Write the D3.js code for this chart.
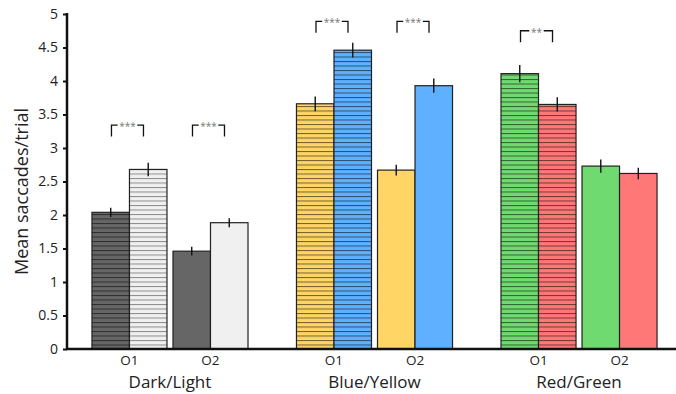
<!DOCTYPE html>
<html>
<head>
<meta charset="utf-8">
<script src="https://cdn.jsdelivr.net/npm/d3@7"></script>
<style>
  body { margin: 0; background: #fff; }
  #chart text { font-family: 'Open Sans', 'Noto Sans', sans-serif; fill: #222; }
</style>
</head>
<body>
<div id="chart"></div>
<script>
// chart values
const groups = ['Dark/Light', 'Blue/Yellow', 'Red/Green'];
const orders = ['O1', 'O2'];
const yTicks = [0, 0.5, 1, 1.5, 2, 2.5, 3, 3.5, 4, 4.5, 5];

// first bar of each pair (dark, yellow, green) and second bar (light, blue, red)
const meansA = [[2.04, 1.46], [3.66, 2.67], [4.11, 2.73]];
const meansB = [[2.68, 1.885], [4.46, 3.93], [3.65, 2.62]];
const errA = [[0.07, 0.065], [0.11, 0.08], [0.13, 0.1]];
const errB = [[0.1, 0.067], [0.11, 0.107], [0.107, 0.087]];
const colorsA = ['#666666', '#ffd566', '#6fda6f'];
const colorsB = ['#f0f0f0', '#5fb0ff', '#ff7878'];
const hatched = ['O1'];

// significance brackets
const sigGroup = ['Dark/Light', 'Dark/Light', 'Blue/Yellow', 'Blue/Yellow', 'Red/Green'];
const sigOrder = ['O1', 'O2', 'O1', 'O2', 'O1'];
const sigLevel = [3.34, 3.34, 4.89, 4.89, 4.75];
const sigLabel = ['***', '***', '***', '***', '**'];

const rawWidth = 676;
const rawHeight = 394;
const margin = { top: 14, right: -6, bottom: 45, left: 67 };
const height = rawHeight - margin.top - margin.bottom;

const svg = d3.select('#chart').append('svg')
  .attr('width', rawWidth)
  .attr('height', rawHeight);

const defs = svg.append('defs');

const xGroup = d3.scaleBand()
  .domain(groups)
  .range([margin.left, rawWidth - margin.right])
  .paddingInner(0.237)
  .paddingOuter(0.122);

const xOrder = d3.scaleBand()
  .domain(orders)
  .range([0, xGroup.bandwidth()])
  .paddingInner(0.074);

const xSide = d3.scaleBand()
  .domain(['A', 'B'])
  .range([0, xOrder.bandwidth()]);

const yScale = d3.scaleLinear()
  .domain([0, 5])
  .range([margin.top + height, margin.top]);

// bars data
const bars = [];
groups.forEach((g, gi) => {
  orders.forEach((o, oi) => {
    bars.push({ g, o, side: 'A', v: meansA[gi][oi], e: errA[gi][oi], c: colorsA[gi], gi });
    bars.push({ g, o, side: 'B', v: meansB[gi][oi], e: errB[gi][oi], c: colorsB[gi], gi });
  });
});

const barX = d => xGroup(d.g) + xOrder(d.o) + xSide(d.side);

// horizontal hatch patterns
bars.forEach((d, i) => {
  if (!hatched.includes(d.o)) return;
  const p = defs.append('pattern')
    .attr('id', `hatch${i}`)
    .attr('patternUnits', 'userSpaceOnUse')
    .attr('width', 8)
    .attr('height', 4.5)
    .attr('y', yScale(0));
  p.append('rect').attr('width', 8).attr('height', 4.5).attr('fill', d.c);
  p.append('line')
    .attr('x1', 0).attr('x2', 8)
    .attr('y1', 0.5).attr('y2', 0.5)
    .attr('stroke', d.c === '#f0f0f0' ? 'rgba(0,0,0,0.42)' : 'rgba(0,0,0,0.55)')
    .attr('stroke-width', 1);
});

svg.append('g')
  .selectAll('rect')
  .data(bars)
  .enter()
  .append('rect')
  .attr('x', barX)
  .attr('y', d => yScale(d.v))
  .attr('width', xSide.bandwidth())
  .attr('height', d => yScale(0) - yScale(d.v))
  .attr('fill', (d, i) => (hatched.includes(d.o) ? `url(#hatch${i})` : d.c))
  .attr('stroke', '#222')
  .attr('stroke-width', 1.2);

// error bars
svg.append('g')
  .selectAll('line')
  .data(bars)
  .enter()
  .append('line')
  .attr('x1', d => barX(d) + xSide.bandwidth() / 2)
  .attr('x2', d => barX(d) + xSide.bandwidth() / 2)
  .attr('y1', d => yScale(d.v + d.e))
  .attr('y2', d => yScale(d.v - d.e))
  .attr('stroke', '#111')
  .attr('stroke-width', 1.4);

// significance brackets
const sig = sigGroup.map((g, i) => ({ g, o: sigOrder[i], lvl: sigLevel[i], lab: sigLabel[i] }));
const half = 16;
const sigG = svg.append('g')
  .selectAll('g')
  .data(sig)
  .enter()
  .append('g')
  .attr('transform', d => `translate(${xGroup(d.g) + xOrder(d.o) + xOrder.bandwidth() / 2 - 2},0)`);

sigG.append('path')
  .attr('d', d => {
    const y0 = yScale(d.lvl);
    const y1 = yScale(d.lvl - 0.17);
    const gap = d.lab.length * 2.6 + 2;
    return `M${-half},${y1}V${y0}H${-gap}M${gap},${y0}H${half}V${y1}`;
  })
  .attr('fill', 'none')
  .attr('stroke', '#111')
  .attr('stroke-width', 1.3);

sigG.append('text')
  .attr('y', d => yScale(d.lvl) + 5)
  .attr('text-anchor', 'middle')
  .style('font-size', '10px')
  .style('fill', '#777')
  .text(d => d.lab);

// axes
const yAxis = d3.axisLeft(yScale)
  .tickValues(yTicks)
  .tickSize(4)
  .tickPadding(5)
  .tickFormat(d3.format('~g'));

const yG = svg.append('g')
  .attr('transform', `translate(${margin.left},0)`)
  .call(yAxis);
yG.select('.domain').remove();
yG.selectAll('.tick line').attr('stroke', '#111').attr('stroke-width', 2);
yG.selectAll('.tick text').style('font-size', '14px').attr('fill', '#222');

svg.append('line')
  .attr('x1', margin.left).attr('x2', margin.left)
  .attr('y1', yScale(5) - 1).attr('y2', yScale(0))
  .attr('stroke', '#111')
  .attr('stroke-width', 2.5);

svg.append('line')
  .attr('x1', margin.left - 1).attr('x2', rawWidth)
  .attr('y1', yScale(0)).attr('y2', yScale(0))
  .attr('stroke', '#111')
  .attr('stroke-width', 2.5);

// O1 / O2 labels
const oLabels = [];
groups.forEach(g => orders.forEach(o => oLabels.push({ g, o })));
svg.append('g')
  .selectAll('text')
  .data(oLabels)
  .enter()
  .append('text')
  .attr('x', d => xGroup(d.g) + xOrder(d.o) + xOrder.bandwidth() / 2)
  .attr('y', yScale(0) + 16)
  .attr('text-anchor', 'middle')
  .style('font-size', '13.5px')
  .text(d => d.o);

svg.append('g')
  .selectAll('text')
  .data(groups)
  .enter()
  .append('text')
  .attr('x', d => xGroup(d) + xGroup.bandwidth() / 2)
  .attr('y', yScale(0) + 39)
  .attr('text-anchor', 'middle')
  .style('font-size', '17px')
  .text(d => d);

svg.append('text')
  .attr('transform', `translate(28,${(yScale(0) + yScale(5)) / 2 + 10}) rotate(-90)`)
  .attr('text-anchor', 'middle')
  .style('font-size', '18px')
  .text('Mean saccades/trial');
</script>
</body>
</html>
